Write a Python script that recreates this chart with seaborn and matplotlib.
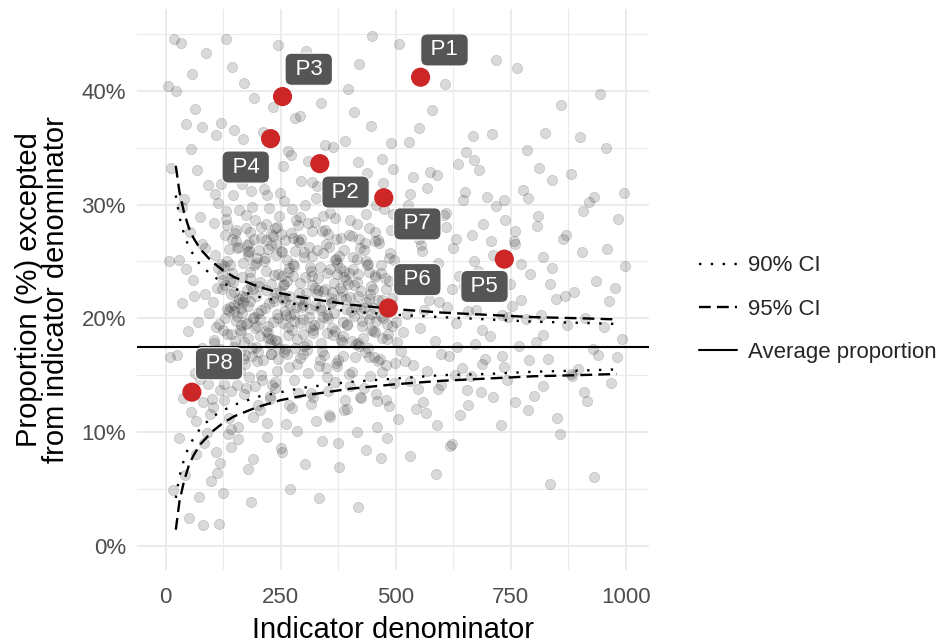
import matplotlib
matplotlib.use('Agg')
import matplotlib.pyplot as plt
from matplotlib.lines import Line2D
import pandas as pd
import seaborn as sns

# =======================
# Data
# =======================
# background providers, denominator (x) and proportion in % (y), by band of x
band_a_x = [5, 8, 10, 12, 15, 18,
            22, 25, 28, 30, 33, 35, 38, 40, 42, 45, 48, 50, 52, 55, 58, 60, 63, 65, 68, 70,
            72, 75, 78, 80, 82, 85, 88, 90, 92, 95, 98, 74, 86, 64, 56, 44, 36, 94, 81, 67]
band_a_y = [40.4, 25.0, 16.6, 33.2, 4.9, 44.6,
            40.0, 16.8, 25.1, 9.5, 44.2, 21.3, 13.0, 30.5, 6.2, 37.1, 18.9, 2.4, 27.6, 11.8, 41.5, 23.4, 15.2, 8.1, 33.0, 19.7,
            4.3, 28.9, 17.4, 36.8, 12.6, 22.1, 43.3, 9.9, 31.7, 20.5, 5.7, 14.7, 26.2, 38.4, 34.9, 24.3, 29.8, 16.1, 1.8, 11.0]

band_b_x = [102, 105, 108, 110, 113, 115, 118, 120, 123, 125, 128, 130, 133, 135, 138, 140, 143, 145, 148, 150,
            153, 155, 158, 160, 163, 165, 168, 170, 173, 175, 178, 180, 183, 185, 188, 190, 193, 195, 198, 200,
            104, 112, 117, 124, 131, 137, 142, 149, 156, 162, 167, 174, 179, 186, 191, 197, 109, 127, 146, 171,
            106, 121, 134, 152, 166, 181, 194, 114, 139, 159, 176, 189, 101, 129, 147, 164, 184, 199, 119, 157]
band_b_y = [21.4, 17.8, 25.6, 8.2, 30.1, 19.5, 13.7, 37.2, 23.9, 4.6, 27.3, 16.4, 20.8, 33.5, 11.2, 24.7, 18.6, 42.1, 22.3, 15.9,
            26.8, 20.2, 9.4, 29.5, 17.1, 23.6, 35.8, 13.3, 21.9, 27.9, 18.3, 6.7, 24.1, 31.2, 16.7, 22.6, 39.4, 19.1, 25.3, 12.4,
            28.4, 22.7, 1.9, 19.0, 44.6, 26.1, 10.3, 20.6, 32.6, 15.4, 24.9, 29.1, 21.1, 3.8, 27.0, 17.5, 36.1, 14.2, 23.2, 40.7,
            18.1, 31.8, 25.0, 19.8, 22.0, 14.8, 28.6, 24.4, 17.0, 21.7, 26.4, 20.0, 12.9, 22.9, 30.8, 18.8, 23.5, 16.2, 7.3, 34.3]

band_c_x = [202, 205, 208, 210, 213, 215, 218, 220, 223, 225, 228, 230, 233, 235, 238, 240, 243, 245, 248, 250,
            253, 255, 258, 260, 263, 265, 268, 270, 273, 275, 278, 280, 283, 285, 288, 290, 293, 295, 298, 300,
            207, 217, 226, 236, 246, 256, 266, 276, 286, 296, 212, 231, 251, 271, 291, 222, 242, 262, 282, 209]
band_c_y = [22.8, 18.4, 27.1, 14.6, 31.4, 20.9, 24.2, 10.8, 19.3, 29.7, 16.9, 23.0, 38.6, 21.5, 13.9, 26.5, 18.0, 44.0, 22.4, 8.6,
            25.8, 19.6, 30.3, 17.3, 23.3, 34.7, 15.7, 21.2, 27.5, 12.1, 20.4, 24.6, 41.0, 18.2, 28.2, 22.2, 16.5, 32.1, 19.9, 25.4,
            20.7, 26.9, 17.7, 23.8, 29.0, 21.8, 19.2, 24.8, 16.0, 21.0, 36.4, 14.1, 25.9, 5.0, 23.1, 18.7, 28.0, 20.3, 37.6, 32.9]

band_d_x = [303, 307, 311, 315, 319, 323, 327, 331, 335, 339, 343, 347, 351, 355, 359, 363, 367, 371, 375, 379,
            383, 387, 391, 395, 399, 305, 313, 321, 329, 337, 345, 353, 361, 369, 377, 385, 393, 309, 333, 357,
            381, 317, 341, 365, 389, 325, 349, 373, 397, 301]
band_d_y = [21.6, 17.2, 26.3, 13.4, 23.7, 19.4, 30.6, 22.5, 16.3, 27.7, 20.1, 35.2, 24.0, 11.5, 21.3, 18.5, 28.8, 25.2, 9.0, 22.7,
            17.9, 26.0, 20.8, 31.9, 15.1, 43.5, 24.5, 19.0, 22.1, 38.9, 16.8, 27.4, 21.4, 14.4, 25.5, 19.7, 23.4, 33.8, 4.2, 29.3,
            18.1, 22.9, 25.7, 20.5, 12.8, 28.5, 15.6, 23.9, 40.2, 17.6]

band_e_x = [403, 407, 411, 415, 419, 423, 427, 431, 435, 439, 443, 447, 451, 455, 459, 463, 467, 471, 475, 479,
            483, 487, 491, 495, 499, 405, 413, 421, 429, 437, 445, 453, 461, 469, 477, 485, 493, 409, 433, 457,
            481, 417, 441, 465, 489, 425, 449, 473, 497, 401]
band_e_y = [20.6, 24.3, 16.6, 28.3, 22.0, 13.1, 19.8, 31.0, 25.0, 17.4, 21.7, 36.9, 18.9, 23.6, 10.4, 26.6, 20.2, 15.3, 29.6, 22.6,
            18.6, 25.7, 19.3, 33.1, 16.1, 27.2, 21.1, 42.4, 18.3, 24.7, 14.9, 20.9, 26.9, 7.7, 23.5, 12.3, 21.8, 38.1, 17.0, 30.0,
            19.5, 3.4, 24.1, 16.4, 27.8, 22.4, 44.8, 20.0, 25.1, 14.0]

band_f_x = [505, 512, 518, 525, 532, 538, 545, 552, 558, 565, 572, 578, 585, 592, 598, 605, 612, 618, 625, 632,
            638, 645, 652, 658, 665, 672, 678, 685, 692, 698, 705, 712, 718, 725, 732, 738, 745, 508, 528, 548,
            568, 588, 608, 628, 648, 668, 688, 708, 728, 748, 515, 555, 595, 635, 675]
band_f_y = [22.5, 17.1, 27.9, 20.4, 14.5, 32.4, 23.2, 19.1, 25.9, 11.7, 21.6, 38.3, 18.0, 24.9, 16.9, 29.1, 21.0, 8.8, 26.2, 19.6,
            23.7, 15.6, 34.6, 20.6, 27.3, 17.7, 24.2, 13.5, 21.9, 30.7, 18.4, 25.6, 42.7, 22.2, 16.7, 28.6, 20.1, 44.1, 35.5, 13.8,
            31.5, 6.3, 40.6, 15.0, 22.8, 36.0, 19.0, 26.8, 10.6, 23.0, 18.8, 26.4, 21.4, 33.6, 20.7]

band_g_x = [752, 760, 768, 776, 784, 792, 800, 808, 816, 824, 832, 840, 848, 856, 864, 872, 880, 888, 896, 904,
            912, 920, 928, 936, 944, 952, 960, 968, 976, 984, 992, 998, 764, 788, 812, 836, 860, 884, 908, 932,
            956, 980, 996, 772, 820, 868, 916, 964]
band_g_y = [21.1, 26.5, 17.6, 31.3, 19.9, 23.9, 13.2, 28.1, 20.3, 36.3, 16.4, 24.4, 21.7, 9.8, 27.0, 19.4, 32.7, 22.3, 15.5, 25.8,
            20.0, 30.2, 17.3, 23.3, 39.7, 19.2, 26.1, 14.3, 22.7, 28.7, 18.2, 24.6, 42.0, 11.9, 33.2, 5.4, 38.8, 14.9, 29.4, 6.0,
            35.0, 16.6, 31.0, 24.8, 18.5, 22.0, 12.7, 21.5]

# dense core of the cloud
core_x = [110, 125, 140, 155, 170, 185, 200, 215, 230, 245, 260, 275, 290, 305, 320, 335, 350, 365, 380, 395,
          410, 425, 440, 455, 470, 485, 500, 116, 132, 148, 164, 180, 196, 212, 228, 244, 276, 292, 324, 340,
          356, 372, 388, 404, 420, 436, 452, 468, 484, 122, 144, 177, 201, 233, 257, 281, 311, 343, 367, 391,
          415, 443, 471, 137, 169, 206, 239, 269, 299, 329, 359, 387, 417, 447, 477, 151, 187, 224, 264, 314]
core_y = [19.2, 23.4, 21.0, 26.2, 17.9, 22.8, 20.5, 25.3, 18.2, 23.9, 21.5, 19.0, 26.7, 22.2, 18.7, 24.5, 20.3, 23.1, 21.9, 19.5,
          22.9, 20.7, 24.8, 18.8, 21.6, 23.3, 19.7, 15.8, 28.7, 17.5, 20.9, 25.6, 22.0, 16.3, 27.4, 20.0, 23.7, 28.9, 21.2, 17.1,
          26.3, 15.8, 24.2, 18.0, 27.0, 21.4, 16.6, 24.0, 20.8, 22.6, 24.0, 19.6, 17.0, 21.8, 23.0, 17.4, 20.1, 22.4, 18.9, 21.7,
          25.2, 19.9, 18.3, 20.6, 21.4, 19.9, 22.2, 24.4, 18.6, 26.0, 21.8, 23.6, 17.8, 20.4, 21.0, 18.0, 17.4, 21.3, 16.9, 20.8]

core2_x = [121, 133, 145, 157, 169, 181, 193, 205, 217, 229, 241, 253, 265, 277, 289, 301, 313, 325, 337, 349,
           361, 373, 385, 397, 409, 421, 433, 445, 457, 469, 128, 152, 176, 198, 222, 246, 268, 292, 316, 338,
           362, 386, 408, 432, 456, 480, 139, 161, 183, 213, 237, 259, 283, 307, 331, 353, 379, 401, 427, 451]
core2_y = [24.8, 18.6, 27.0, 21.3, 16.4, 25.9, 20.1, 23.2, 28.3, 16.9, 20.4, 23.7, 18.5, 27.1, 21.6, 25.8, 19.2, 22.7, 17.8, 26.5,
           19.1, 24.9, 16.7, 23.0, 20.2, 17.6, 26.6, 22.1, 19.8, 24.7, 20.0, 27.8, 22.5, 19.3, 26.1, 17.4, 22.0, 19.6, 24.2, 20.7,
           22.3, 18.4, 25.4, 20.9, 23.8, 18.2, 23.3, 19.0, 21.5, 25.0, 18.1, 26.9, 21.0, 17.7, 23.5, 20.0, 24.4, 21.9, 19.3, 22.6]

core3_x = [143, 159, 175, 191, 207, 223, 239, 255, 271, 287, 303, 319, 335, 351, 367, 383, 399, 415, 431, 447,
           150, 166, 182, 218, 234, 250, 266, 282, 298, 318, 346, 370, 394, 418, 442, 462, 196, 228, 260, 284]
core3_y = [22.1, 26.3, 19.5, 24.7, 28.0, 18.3, 25.6, 22.9, 20.2, 26.9, 23.6, 27.7, 21.0, 18.7, 25.1, 22.4, 27.3, 23.2, 26.0, 19.0,
           27.5, 20.5, 26.6, 22.5, 19.7, 27.4, 24.1, 25.9, 21.2, 25.5, 22.6, 27.0, 19.4, 23.9, 27.9, 21.6, 24.9, 26.4, 20.6, 28.6]

mid_x = [62, 78, 93, 107, 118, 126, 134, 141, 149, 156, 163, 172, 179, 187, 194, 203, 211, 219, 227, 234,
         241, 249, 257, 264, 272, 279, 287, 294, 302, 310, 318, 326, 334, 342, 350, 358, 366, 374, 382, 390]
mid_y = [22.0, 26.5, 14.2, 30.9, 17.3, 24.6, 28.2, 13.6, 21.2, 33.0, 19.4, 16.0, 25.8, 29.8, 14.0, 26.0, 32.3, 18.9, 12.9, 27.2,
         15.4, 31.0, 17.0, 25.1, 34.4, 19.8, 13.4, 27.0, 30.0, 15.2, 32.0, 11.0, 19.5, 29.0, 14.8, 24.3, 31.4, 16.3, 27.1, 35.6]

right_x = [398, 406, 414, 422, 430, 438, 446, 454, 462, 470, 478, 486, 494, 502, 514, 526, 538, 550, 562, 574,
           586, 598, 610, 622, 634, 646, 658, 670, 682, 694, 706, 718, 730, 742, 756, 772, 788, 804, 820, 836]
right_y = [24.0, 30.4, 17.7, 26.2, 13.9, 32.8, 22.8, 27.6, 16.2, 34.0, 12.8, 25.3, 29.2, 17.9, 24.1, 30.0, 15.9, 27.0, 20.7, 32.9,
           23.3, 14.1, 28.0, 22.6, 17.5, 30.4, 12.4, 25.0, 33.0, 16.4, 23.4, 29.9, 20.3, 14.6, 26.8, 21.6, 30.6, 17.9, 25.4, 23.0]

upper_x = [132, 148, 166, 184, 202, 220, 238, 256, 274, 292, 310, 328, 346, 364, 382, 400, 418, 436, 454, 472,
           490, 510, 530, 550, 570, 590, 610, 630, 650, 670, 690, 710, 735, 760, 785, 810, 840, 870, 900, 930]
upper_y = [29.4, 36.6, 31.8, 27.6, 34.2, 30.8, 27.9, 33.4, 29.6, 37.8, 28.4, 31.6, 27.8, 35.1, 30.2, 28.6, 33.7, 29.2, 26.8, 31.9,
           35.4, 28.1, 30.9, 36.7, 27.4, 32.6, 29.3, 27.0, 31.1, 33.9, 28.3, 36.2, 30.4, 27.7, 34.8, 29.0, 32.2, 27.3, 35.9, 30.7]

low_x = [103, 118, 136, 154, 172, 190, 208, 226, 244, 262, 280, 298, 316, 334, 352, 370, 388, 406, 424, 442,
         460, 478, 496, 520, 544, 568, 592, 616, 640, 664, 688, 712, 736, 760, 790, 820, 850, 880, 910, 940]
low_y = [12.2, 15.6, 9.8, 14.1, 16.8, 11.3, 15.0, 13.2, 16.4, 10.7, 14.6, 16.9, 12.5, 15.8, 13.6, 16.1, 11.9, 15.3, 13.0, 16.6,
         12.7, 15.9, 14.3, 16.2, 12.0, 15.4, 13.8, 16.7, 11.5, 14.9, 16.0, 13.1, 15.7, 12.6, 16.3, 14.0, 11.2, 15.1, 13.5, 16.8]

low2_x = [84, 97, 111, 126, 143, 158, 174, 189, 206, 221, 237, 253, 269, 286, 303, 321, 339, 357, 376, 395,
          415, 436, 458, 481, 505, 532, 560, 590, 622, 655]
low2_y = [9.0, 11.6, 6.4, 12.8, 8.7, 10.4, 13.9, 7.6, 11.9, 9.6, 14.4, 8.2, 12.4, 10.1, 7.2, 13.1, 9.2, 11.3, 6.9, 12.0,
          10.0, 8.4, 13.3, 9.5, 11.1, 7.9, 12.6, 10.6, 8.9, 13.7]

# highlighted providers
hl_names = ['P1', 'P2', 'P3', 'P4', 'P5', 'P6', 'P7', 'P8']
hl_x = [554, 335, 254, 228, 736, 484, 474, 57]
hl_y = [41.2, 33.6, 39.5, 35.8, 25.2, 20.9, 30.6, 13.5]

# funnel limits read at a set of denominators
funnel_n = [22, 30, 40, 50, 60, 75, 100, 125, 150, 200, 250, 300, 400, 500, 600, 700, 800, 900, 980]
ci95_upper = [33.4, 31.1, 29.3, 28.0, 27.1, 26.1, 25.0, 24.2, 23.6, 22.8, 22.2, 21.8, 21.2, 20.8, 20.5, 20.3, 20.1, 20.0, 19.9]
ci95_lower = [1.4, 3.9, 5.7, 7.0, 7.9, 8.9, 10.0, 10.8, 11.4, 12.2, 12.8, 13.2, 13.8, 14.2, 14.5, 14.7, 14.9, 15.0, 15.1]
ci90_upper = [30.8, 28.9, 27.4, 26.3, 25.6, 24.7, 23.8, 23.1, 22.6, 21.9, 21.5, 21.1, 20.6, 20.3, 20.1, 19.9, 19.7, 19.6, 19.5]
ci90_lower = [4.2, 6.1, 7.6, 8.7, 9.4, 10.3, 11.3, 11.9, 12.4, 13.1, 13.5, 13.9, 14.4, 14.7, 15.0, 15.1, 15.3, 15.4, 15.5]

avg_prop = 17.5

x_ticks = [0, 250, 500, 750, 1000]
y_ticks = [0, 10, 20, 30, 40]
y_tick_labels = ['0%', '10%', '20%', '30%', '40%']

# =======================
# Build frames
# =======================
bands_x = [band_a_x, band_b_x, band_c_x, band_d_x, band_e_x, band_f_x, band_g_x,
           core_x, core2_x, core3_x, mid_x, right_x, upper_x, low_x, low2_x]
bands_y = [band_a_y, band_b_y, band_c_y, band_d_y, band_e_y, band_f_y, band_g_y,
           core_y, core2_y, core3_y, mid_y, right_y, upper_y, low_y, low2_y]
for bx, by in zip(bands_x, bands_y):
    assert len(bx) == len(by), (len(bx), len(by))
cloud = pd.DataFrame({'n': sum(bands_x, []), 'pct': sum(bands_y, [])})
hl = pd.DataFrame({'name': hl_names, 'n': hl_x, 'pct': hl_y})

# =======================
# Plot
# =======================
sns.set_theme(style='white')
plt.rcParams['font.family'] = ['Liberation Sans', 'DejaVu Sans']

fig = plt.figure(figsize=(9.5, 6.44), dpi=100)
ax = fig.add_axes([137 / 950, 1 - 570 / 644, 512 / 950, 561 / 644])

# grid like ggplot theme_minimal
for v in [125, 375, 625, 875]:
    ax.axvline(v, color='#EBEBEB', lw=0.8, zorder=0)
for v in [5, 15, 25, 35, 45]:
    ax.axhline(v, color='#EBEBEB', lw=0.8, zorder=0)
for v in x_ticks:
    ax.axvline(v, color='#EBEBEB', lw=1.4, zorder=0)
for v in y_ticks:
    ax.axhline(v, color='#EBEBEB', lw=1.4, zorder=0)

sns.scatterplot(data=cloud, x='n', y='pct', ax=ax, s=55, color='black', alpha=0.15,
                edgecolor='black', linewidth=0.6, legend=False, zorder=2)

dot = (1, 4)
dash = (5, 2.6)
for ys, d in [(ci90_upper, dot), (ci90_lower, dot), (ci95_upper, dash), (ci95_lower, dash)]:
    sns.lineplot(x=funnel_n, y=ys, ax=ax, color='black', lw=1.7, dashes=d, zorder=3)
ax.axhline(avg_prop, color='black', lw=1.5, zorder=3)

sns.scatterplot(data=hl, x='n', y='pct', ax=ax, s=190, color='#CD2626', edgecolor='none',
                legend=False, zorder=5)

# label offsets (data units) as placed in the reference
label_off = {'P1': (52, 2.4), 'P2': (56, -2.5), 'P3': (57, 2.4), 'P4': (-54, -2.5),
             'P5': (-43, -2.4), 'P6': (63, 2.5), 'P7': (73, -2.3), 'P8': (59, 2.5)}
for name, x, y in zip(hl_names, hl_x, hl_y):
    dx, dy = label_off[name]
    ax.text(x + dx, y + dy, '\u2009' + name + '\u2009', color='white', fontsize=16, ha='center', va='center',
            zorder=6, bbox=dict(boxstyle='round,pad=0.25,rounding_size=0.3', fc='#555555', ec='white', lw=0.8))

ax.set_xlim(-62.3, 1050.5)
ax.set_ylim(-2.14, 47.2)
ax.set_xticks(x_ticks)
ax.set_xticklabels([str(t) for t in x_ticks])
ax.set_yticks(y_ticks)
ax.set_yticklabels(y_tick_labels)
ax.tick_params(length=0, labelsize=16, labelcolor='#4D4D4D')
ax.tick_params(axis='x', pad=12)
ax.tick_params(axis='y', pad=8)
for s in ax.spines.values():
    s.set_visible(False)
ax.grid(False)
ax.set_xlabel('Indicator denominator', fontsize=21, color='black', labelpad=6)
ax.set_ylabel('Proportion (%) excepted\nfrom indicator denominator', fontsize=21, color='black',
              labelpad=8, linespacing=0.95)

handles = [Line2D([], [], color='black', lw=1.7, dashes=dot),
           Line2D([], [], color='black', lw=1.7, dashes=dash),
           Line2D([], [], color='black', lw=1.5)]
fig.legend(handles, ['90% CI', '95% CI', 'Average proportion'], loc='center left',
           bbox_to_anchor=(699 / 950, 1 - 309 / 644), frameon=False, fontsize=16,
           handlelength=1.7, handletextpad=0.5, labelspacing=1.0, borderpad=0, borderaxespad=0)

fig.savefig('out.png', dpi=100)
